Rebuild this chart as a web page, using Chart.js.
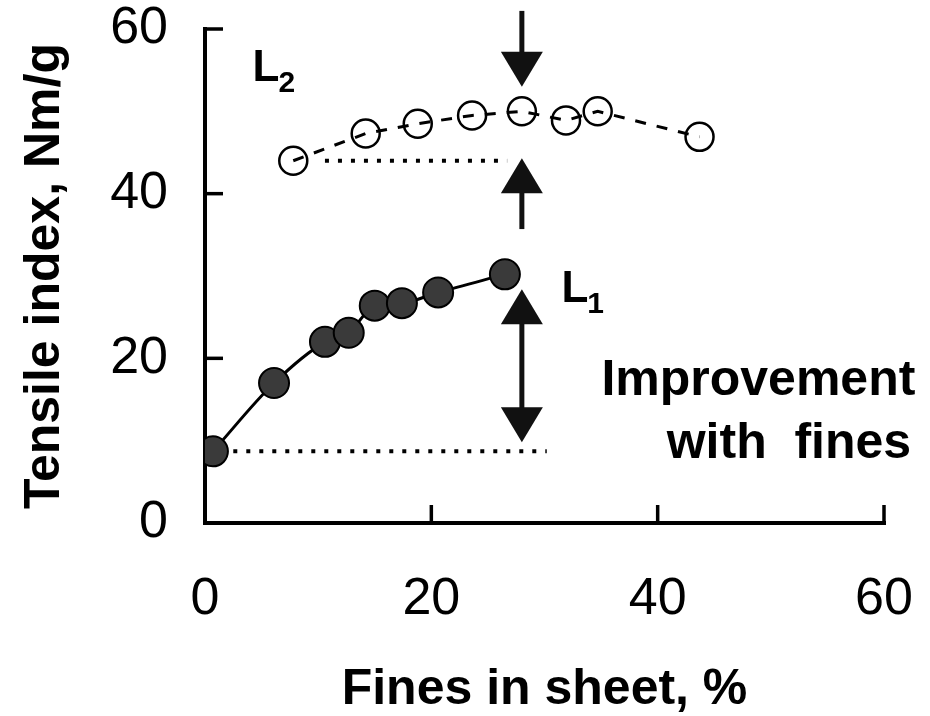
<!DOCTYPE html>
<html>
<head>
<meta charset="utf-8">
<style>
  html, body { margin: 0; padding: 0; background: #fff; }
  #wrap { width: 930px; height: 716px; }
</style>
<script src="https://cdn.jsdelivr.net/npm/chart.js@4.4.1/dist/chart.umd.min.js"></script>
</head>
<body>
<div id="wrap"><canvas id="chart" width="930" height="716"></canvas></div>
<script>
// Axis ranges and tick values
const xTicks = [0, 20, 40, 60];
const yTicks = [0, 20, 40, 60];

// L1: tensile index of the sheet as fines are added (filled circles)
const l1Fines = [0.7, 6.1, 10.6, 12.7, 15.0, 17.4, 20.6, 26.5];
const l1Tensile = [8.7, 17.0, 22.0, 23.1, 26.4, 26.7, 28.0, 30.2];

// L2: second series (open circles)
const l2Fines = [7.8, 14.2, 18.8, 23.6, 28.0, 31.9, 34.7, 43.7];
const l2Tensile = [44.0, 47.3, 48.5, 49.5, 50.0, 48.9, 50.0, 46.9];

// Dotted reference levels drawn from the first point of each series
const refL1Span = [2.5, 30.2];
const refL2Span = [10.6, 26.7];

// Arrows at x = arrowFines: [from, to] in tensile index units
const arrowFines = 28.0;
const arrowDown = [62.2, 53.0];
const arrowUp = [35.7, 44.3];
const arrowBoth = [28.4, 9.8];

// Text annotations placed in data units
const seriesLabels = [
  { main: 'L', sub: '2', x: 4.2, y: 53.7 },
  { main: 'L', sub: '1', x: 31.5, y: 26.8 }
];
const noteLines = [
  { text: 'Improvement', x: 48.9, y: 15.6 },
  { text: 'with  fines', x: 51.6, y: 7.9 }
];

const pts = (xs, ys) => xs.map((v, i) => ({ x: v, y: ys[i] }));

const FONT = "'Liberation Sans', Arial, sans-serif";

const decorations = {
  id: 'decorations',
  beforeDatasetsDraw(chart) {
    const { ctx, scales: { x, y } } = chart;
    const xl = x.getPixelForValue(xTicks[0]);
    const xr = x.getPixelForValue(xTicks[xTicks.length - 1]);
    const yb = y.getPixelForValue(yTicks[0]);
    const yt = y.getPixelForValue(yTicks[yTicks.length - 1]);
    ctx.save();
    ctx.strokeStyle = '#000';
    ctx.lineWidth = 4;
    ctx.lineCap = 'square';
    ctx.beginPath();
    ctx.moveTo(xl, yt);
    ctx.lineTo(xl, yb);
    ctx.lineTo(xr, yb);
    ctx.stroke();
    // inward tick marks
    ctx.lineWidth = 3.5;
    ctx.lineCap = 'butt';
    const tl = 18;
    yTicks.slice(1).forEach(v => {
      const py = y.getPixelForValue(v);
      ctx.beginPath(); ctx.moveTo(xl, py); ctx.lineTo(xl + tl, py); ctx.stroke();
    });
    xTicks.slice(1).forEach(v => {
      const px = x.getPixelForValue(v);
      ctx.beginPath(); ctx.moveTo(px, yb); ctx.lineTo(px, yb - tl); ctx.stroke();
    });
    ctx.restore();
  },
  afterDatasetsDraw(chart) {
    const { ctx, scales: { x, y } } = chart;
    const ax = x.getPixelForValue(arrowFines);
    const headW = 42, headH = 35;
    ctx.save();
    ctx.fillStyle = '#111';
    ctx.strokeStyle = '#111';
    ctx.lineWidth = 5;

    const head = (tipY, dir) => {
      // dir = +1 points down, -1 points up
      ctx.beginPath();
      ctx.moveTo(ax, tipY);
      ctx.lineTo(ax - headW / 2, tipY - dir * headH);
      ctx.lineTo(ax + headW / 2, tipY - dir * headH);
      ctx.closePath();
      ctx.fill();
    };
    const shaft = (ya, yb2) => {
      ctx.beginPath(); ctx.moveTo(ax, ya); ctx.lineTo(ax, yb2); ctx.stroke();
    };

    // downward arrow onto the L2 maximum
    let a = y.getPixelForValue(arrowDown[0]), b = y.getPixelForValue(arrowDown[1]);
    shaft(a, b - headH + 2); head(b, 1);
    // upward arrow onto the L2 starting level
    a = y.getPixelForValue(arrowUp[0]); b = y.getPixelForValue(arrowUp[1]);
    shaft(a, b + headH - 2); head(b, -1);
    // double-headed arrow spanning the improvement along L1
    a = y.getPixelForValue(arrowBoth[0]); b = y.getPixelForValue(arrowBoth[1]);
    shaft(a + headH - 2, b - headH + 2); head(a, -1); head(b, 1);

    // series labels with subscripts
    ctx.fillStyle = '#000';
    ctx.textBaseline = 'alphabetic';
    ctx.textAlign = 'left';
    seriesLabels.forEach(l => {
      const px = x.getPixelForValue(l.x), py = y.getPixelForValue(l.y);
      ctx.font = `bold 44px ${FONT}`;
      ctx.fillText(l.main, px, py);
      const w = ctx.measureText(l.main).width;
      ctx.font = `bold 30px ${FONT}`;
      ctx.fillText(l.sub, px + w - 1, py + 11);
    });

    // explanatory note
    ctx.font = `bold 50px ${FONT}`;
    ctx.textAlign = 'center';
    noteLines.forEach(n => {
      ctx.fillText(n.text, x.getPixelForValue(n.x), y.getPixelForValue(n.y));
    });
    ctx.restore();
  }
};

new Chart(document.getElementById('chart'), {
  type: 'line',
  data: {
    datasets: [
      {
        label: 'L1 level',
        data: pts(refL1Span, [l1Tensile[0], l1Tensile[0]]),
        borderColor: '#000', borderWidth: 4, borderDash: [4, 9],
        pointRadius: 0, fill: false
      },
      {
        label: 'L2 level',
        data: pts(refL2Span, [l2Tensile[0], l2Tensile[0]]),
        borderColor: '#000', borderWidth: 4, borderDash: [4, 9],
        pointRadius: 0, fill: false
      },
      {
        label: 'L2',
        data: pts(l2Fines, l2Tensile),
        borderColor: '#000', borderWidth: 3, borderDash: [11, 11],
        tension: 0,
        pointRadius: 14, pointBorderWidth: 2.5,
        pointBorderColor: '#000', pointBackgroundColor: 'rgba(0,0,0,0)',
        fill: false
      },
      {
        label: 'L1',
        data: pts(l1Fines, l1Tensile),
        borderColor: '#000', borderWidth: 3,
        cubicInterpolationMode: 'monotone',
        pointRadius: 15, pointBorderWidth: 2,
        pointBorderColor: '#000', pointBackgroundColor: '#3a3a3a',
        fill: false
      }
    ]
  },
  options: {
    responsive: false,
    animation: false,
    events: [],
    layout: { padding: { top: 29, right: 46, left: 0, bottom: 0 } },
    plugins: { legend: { display: false }, tooltip: { enabled: false } },
    scales: {
      x: {
        type: 'linear',
        min: xTicks[0], max: xTicks[xTicks.length - 1],
        afterBuildTicks: s => { s.ticks = xTicks.map(v => ({ value: v })); },
        afterFit: s => { s.height = 193; s.paddingLeft = 0; s.paddingRight = 0; },
        grid: { display: false, drawTicks: false },
        border: { display: false },
        ticks: {
          padding: 45, maxRotation: 0, autoSkip: false,
          color: '#000', font: { family: FONT, size: 52 }
        },
        title: {
          display: true, text: 'Fines in sheet, %', color: '#000',
          font: { family: FONT, size: 50, weight: 'bold', lineHeight: 1 },
          padding: { top: 0, bottom: 1 }
        }
      },
      y: {
        type: 'linear',
        min: yTicks[0], max: yTicks[yTicks.length - 1],
        afterBuildTicks: s => { s.ticks = yTicks.map(v => ({ value: v })); },
        afterFit: s => { s.width = 205; s.paddingTop = 0; s.paddingBottom = 0; },
        grid: { display: false, drawTicks: false },
        border: { display: false },
        ticks: {
          padding: 37, autoSkip: false,
          color: '#000', font: { family: FONT, size: 52 }
        },
        title: {
          display: true, text: 'Tensile index, Nm/g', color: '#000',
          font: { family: FONT, size: 50, weight: 'bold', lineHeight: 1 },
          padding: { top: 20, bottom: 0 }
        }
      }
    }
  },
  plugins: [decorations]
});
</script>
</body>
</html>
